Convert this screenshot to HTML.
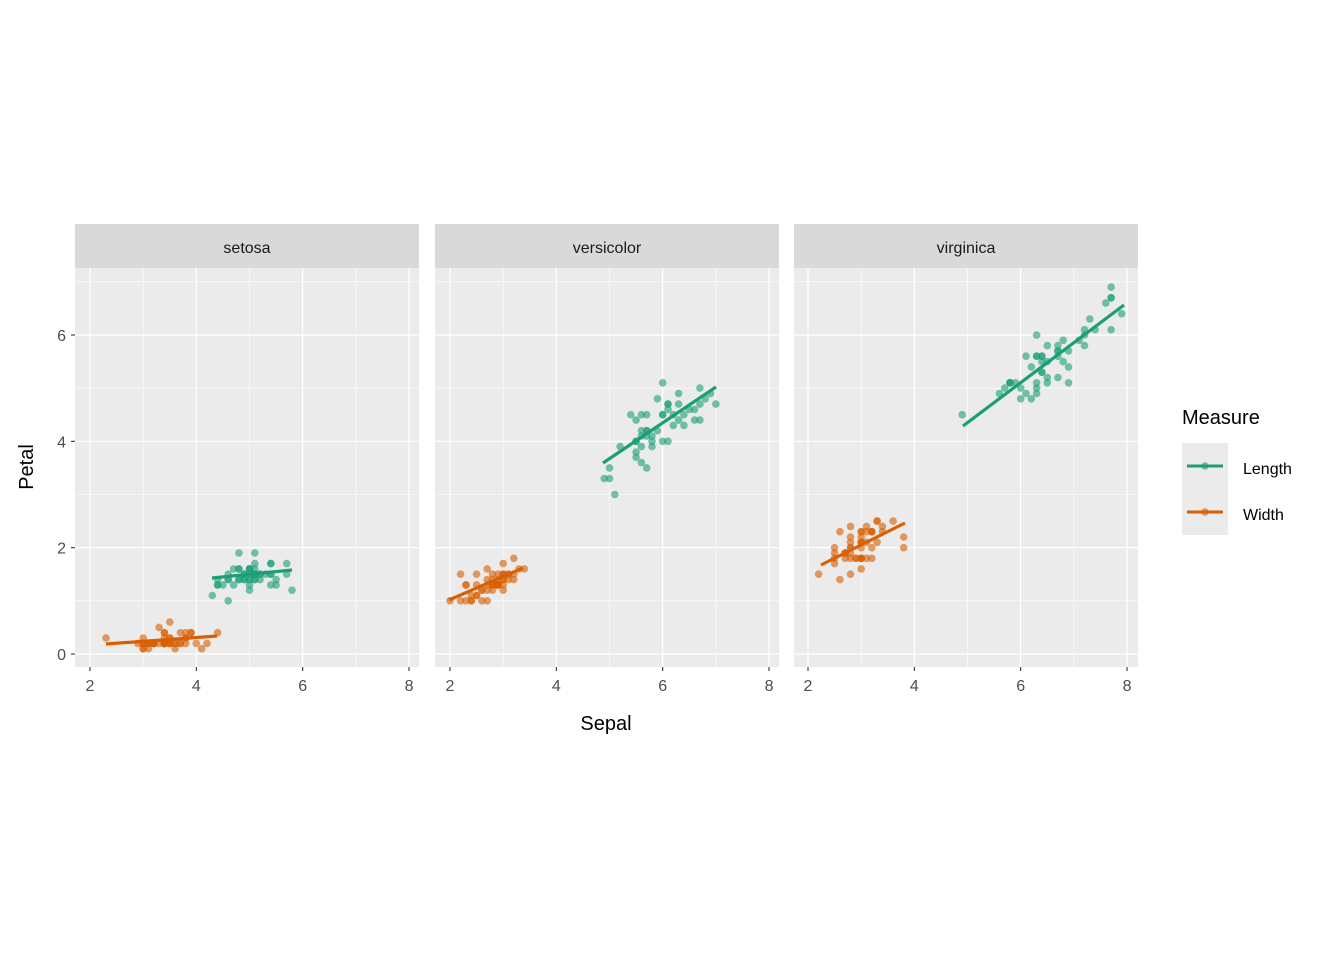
<!DOCTYPE html>
<html><head><meta charset="utf-8"><style>
html,body{margin:0;padding:0;background:#fff;}
svg{display:block;font-family:"Liberation Sans",Arial,sans-serif;}
</style></head><body>
<svg id="s" width="1344" height="960" xmlns="http://www.w3.org/2000/svg">
<rect width="1344" height="960" fill="#fff"/>
<g id="g"></g>
<text x="606" y="730" font-size="20" text-anchor="middle" fill="#000">Sepal</text>
<text transform="translate(33,467) rotate(-90)" font-size="20" text-anchor="middle" fill="#000">Petal</text>
<text x="1182" y="424" font-size="20" fill="#000">Measure</text>
<rect x="1182" y="443" width="46" height="92" fill="#EBEBEB"/>
<line x1="1187" y1="466" x2="1223" y2="466" stroke="#1B9E77" stroke-width="3"/>
<circle cx="1205" cy="466" r="3.8" fill="#1B9E77" fill-opacity="0.6"/>
<line x1="1187" y1="512" x2="1223" y2="512" stroke="#D95F02" stroke-width="3"/>
<circle cx="1205" cy="512" r="3.8" fill="#D95F02" fill-opacity="0.6"/>
<text x="1243" y="474" font-size="16" fill="#000">Length</text>
<text x="1243" y="520" font-size="16" fill="#000">Width</text>
</svg>
<script>
var S=[[5.1,3.5,1.4,0.2],[4.9,3.0,1.4,0.2],[4.7,3.2,1.3,0.2],[4.6,3.1,1.5,0.2],[5.0,3.6,1.4,0.2],[5.4,3.9,1.7,0.4],[4.6,3.4,1.4,0.3],[5.0,3.4,1.5,0.2],[4.4,2.9,1.4,0.2],[4.9,3.1,1.5,0.1],[5.4,3.7,1.5,0.2],[4.8,3.4,1.6,0.2],[4.8,3.0,1.4,0.1],[4.3,3.0,1.1,0.1],[5.8,4.0,1.2,0.2],[5.7,4.4,1.5,0.4],[5.4,3.9,1.3,0.4],[5.1,3.5,1.4,0.3],[5.7,3.8,1.7,0.3],[5.1,3.8,1.5,0.3],[5.4,3.4,1.7,0.2],[5.1,3.7,1.5,0.4],[4.6,3.6,1.0,0.2],[5.1,3.3,1.7,0.5],[4.8,3.4,1.9,0.2],[5.0,3.0,1.6,0.2],[5.0,3.4,1.6,0.4],[5.2,3.5,1.5,0.2],[5.2,3.4,1.4,0.2],[4.7,3.2,1.6,0.2],[4.8,3.1,1.6,0.2],[5.4,3.4,1.5,0.4],[5.2,4.1,1.5,0.1],[5.5,4.2,1.4,0.2],[4.9,3.1,1.5,0.2],[5.0,3.2,1.2,0.2],[5.5,3.5,1.3,0.2],[4.9,3.6,1.4,0.1],[4.4,3.0,1.3,0.2],[5.1,3.4,1.5,0.2],[5.0,3.5,1.3,0.3],[4.5,2.3,1.3,0.3],[4.4,3.2,1.3,0.2],[5.0,3.5,1.6,0.6],[5.1,3.8,1.9,0.4],[4.8,3.0,1.4,0.3],[5.1,3.8,1.6,0.2],[4.6,3.2,1.4,0.2],[5.3,3.7,1.5,0.2],[5.0,3.3,1.4,0.2]];
var V=[[7.0,3.2,4.7,1.4],[6.4,3.2,4.5,1.5],[6.9,3.1,4.9,1.5],[5.5,2.3,4.0,1.3],[6.5,2.8,4.6,1.5],[5.7,2.8,4.5,1.3],[6.3,3.3,4.7,1.6],[4.9,2.4,3.3,1.0],[6.6,2.9,4.6,1.3],[5.2,2.7,3.9,1.4],[5.0,2.0,3.5,1.0],[5.9,3.0,4.2,1.5],[6.0,2.2,4.0,1.0],[6.1,2.9,4.7,1.4],[5.6,2.9,3.6,1.3],[6.7,3.1,4.4,1.4],[5.6,3.0,4.5,1.5],[5.8,2.7,4.1,1.0],[6.2,2.2,4.5,1.5],[5.6,2.5,3.9,1.1],[5.9,3.2,4.8,1.8],[6.1,2.8,4.0,1.3],[6.3,2.5,4.9,1.5],[6.1,2.8,4.7,1.2],[6.4,2.9,4.3,1.3],[6.6,3.0,4.4,1.4],[6.8,2.8,4.8,1.4],[6.7,3.0,5.0,1.7],[6.0,2.9,4.5,1.5],[5.7,2.6,3.5,1.0],[5.5,2.4,3.8,1.1],[5.5,2.4,3.7,1.0],[5.8,2.7,3.9,1.2],[6.0,2.7,5.1,1.6],[5.4,3.0,4.5,1.5],[6.0,3.4,4.5,1.6],[6.7,3.1,4.7,1.5],[6.3,2.3,4.4,1.3],[5.6,3.0,4.1,1.3],[5.5,2.5,4.0,1.3],[5.5,2.6,4.4,1.2],[6.1,3.0,4.6,1.4],[5.8,2.6,4.0,1.2],[5.0,2.3,3.3,1.0],[5.6,2.7,4.2,1.3],[5.7,3.0,4.2,1.2],[5.7,2.9,4.2,1.3],[6.2,2.9,4.3,1.3],[5.1,2.5,3.0,1.1],[5.7,2.8,4.1,1.3]];
var G=[[6.3,3.3,6.0,2.5],[5.8,2.7,5.1,1.9],[7.1,3.0,5.9,2.1],[6.3,2.9,5.6,1.8],[6.5,3.0,5.8,2.2],[7.6,3.0,6.6,2.1],[4.9,2.5,4.5,1.7],[7.3,2.9,6.3,1.8],[6.7,2.5,5.8,1.8],[7.2,3.6,6.1,2.5],[6.5,3.2,5.1,2.0],[6.4,2.7,5.3,1.9],[6.8,3.0,5.5,2.1],[5.7,2.5,5.0,2.0],[5.8,2.8,5.1,2.4],[6.4,3.2,5.3,2.3],[6.5,3.0,5.5,1.8],[7.7,3.8,6.7,2.2],[7.7,2.6,6.9,2.3],[6.0,2.2,5.0,1.5],[6.9,3.2,5.7,2.3],[5.6,2.8,4.9,2.0],[7.7,2.8,6.7,2.0],[6.3,2.7,4.9,1.8],[6.7,3.3,5.7,2.1],[7.2,3.2,6.0,1.8],[6.2,2.8,4.8,1.8],[6.1,3.0,4.9,1.8],[6.4,2.8,5.6,2.1],[7.2,3.0,5.8,1.6],[7.4,2.8,6.1,1.9],[7.9,3.8,6.4,2.0],[6.4,2.8,5.6,2.2],[6.3,2.8,5.1,1.5],[6.1,2.6,5.6,1.4],[7.7,3.0,6.1,2.3],[6.3,3.4,5.6,2.4],[6.4,3.1,5.5,1.8],[6.0,3.0,4.8,1.8],[6.9,3.1,5.4,2.1],[6.7,3.1,5.6,2.4],[6.9,3.1,5.1,2.3],[5.8,2.7,5.1,1.9],[6.8,3.2,5.9,2.3],[6.7,3.3,5.7,2.5],[6.7,3.0,5.2,2.3],[6.3,2.5,5.0,1.9],[6.5,3.0,5.2,2.0],[6.2,3.4,5.4,2.3],[5.9,3.0,5.1,1.8]];
var panels=[{x0:75,o:90,name:"setosa",d:S,lines:[[212,578,292,570],[106,644,217,636]]},
{x0:435,o:450,name:"versicolor",d:V,lines:[[603,463,716,387],[449,600,523,568]]},
{x0:794,o:808,name:"virginica",d:G,lines:[[963,426,1124,305],[821,565,905,523]]}];
var u=53.17,y0=654,h="";
function Y(v){return y0-v*u;}
panels.forEach(function(p){
 h+='<rect x="'+p.x0+'" y="224" width="344" height="44" fill="#D9D9D9"/>';
 h+='<text x="'+(p.x0+172)+'" y="253" font-size="16" text-anchor="middle" fill="#1A1A1A">'+p.name+'</text>';
 h+='<rect x="'+p.x0+'" y="268" width="344" height="399" fill="#EBEBEB"/>';
 [1,3,5,7].forEach(function(v){h+='<line x1="'+p.x0+'" x2="'+(p.x0+344)+'" y1="'+Y(v)+'" y2="'+Y(v)+'" stroke="#fff" stroke-width="0.6"/>';});
 [3,5,7].forEach(function(v){var x=p.o+(v-2)*u;h+='<line x1="'+x+'" x2="'+x+'" y1="268" y2="667" stroke="#fff" stroke-width="0.6"/>';});
 [0,2,4,6].forEach(function(v){h+='<line x1="'+p.x0+'" x2="'+(p.x0+344)+'" y1="'+Y(v)+'" y2="'+Y(v)+'" stroke="#fff" stroke-width="1.2"/>';});
 [2,4,6,8].forEach(function(v){var x=p.o+(v-2)*u;h+='<line x1="'+x+'" x2="'+x+'" y1="268" y2="667" stroke="#fff" stroke-width="1.2"/>';
  h+='<line x1="'+x+'" x2="'+x+'" y1="667" y2="671" stroke="#333" stroke-width="1.1"/>';
  h+='<text x="'+x+'" y="691" font-size="16" text-anchor="middle" fill="#4D4D4D">'+v+'</text>';});
 p.d.forEach(function(r){
  h+='<circle cx="'+(p.o+(r[0]-2)*u).toFixed(1)+'" cy="'+Y(r[2]).toFixed(1)+'" r="3.8" fill="#1B9E77" fill-opacity="0.6"/>';
  h+='<circle cx="'+(p.o+(r[1]-2)*u).toFixed(1)+'" cy="'+Y(r[3]).toFixed(1)+'" r="3.8" fill="#D95F02" fill-opacity="0.6"/>';});
 var c=["#1B9E77","#D95F02"];
 p.lines.forEach(function(l,i){h+='<line x1="'+l[0]+'" y1="'+l[1]+'" x2="'+l[2]+'" y2="'+l[3]+'" stroke="'+c[i]+'" stroke-width="3.2"/>';});
});
[0,2,4,6].forEach(function(v){h+='<line x1="71" x2="75" y1="'+Y(v)+'" y2="'+Y(v)+'" stroke="#333" stroke-width="1.1"/>';
 h+='<text x="66" y="'+(Y(v)+6)+'" font-size="16" text-anchor="end" fill="#4D4D4D">'+v+'</text>';});
document.getElementById("g").innerHTML=h;
</script>
</body></html>
